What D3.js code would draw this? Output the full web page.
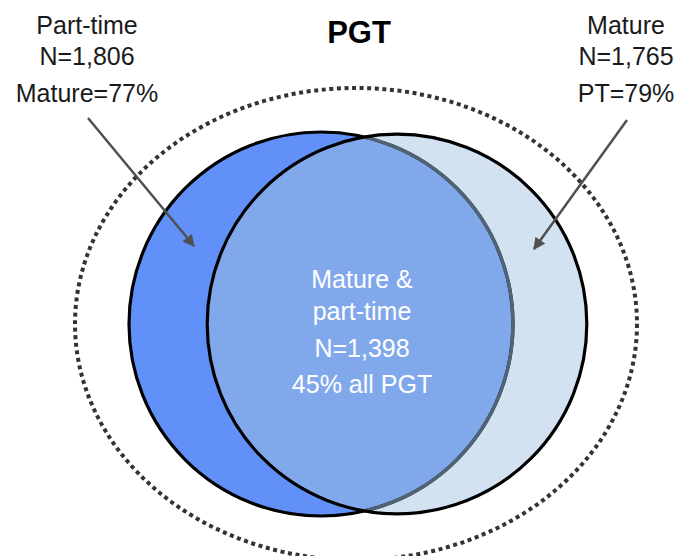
<!DOCTYPE html>
<html>
<head>
<meta charset="utf-8">
<script src="https://cdn.jsdelivr.net/npm/d3@7"></script>
<style>
  body { margin: 0; background: #fff; }
  text { font-family: "Liberation Sans", Arial, sans-serif; }
</style>
</head>
<body>
<script>
var title = 'PGT';
var setNames = ['Part-time', 'Mature'];
var setCounts = [1806, 1765];
var setLabels = ['N=1,806', 'N=1,765'];
var setShares = ['Mature=77%', 'PT=79%'];
var overlapLines = ['Mature &', 'part-time', 'N=1,398', '45% all PGT'];

var width = 678;
var height = 556;
var cy = 324;

var svg = d3.select('body').append('svg')
            .attr('width', width)
            .attr('height', height);

var x = d3.scalePoint()
          .domain(setNames)
          .range([321, 397]);
var r = d3.scaleSqrt()
          .domain([0, d3.max(setCounts)])
          .range([0, 192]);

var sets = setNames.map(function(d, i) {
  return { name: d, count: setCounts[i], label: setLabels[i], share: setShares[i] };
});
var left = sets[0], right = sets[1];

var defs = svg.append('defs');
defs.append('clipPath').attr('id', 'clipRight')
    .append('circle')
    .attr('cx', x(right.name)).attr('cy', cy).attr('r', r(right.count));
defs.append('marker')
    .attr('id', 'arrow')
    .attr('viewBox', '0 0 10 10')
    .attr('refX', 9).attr('refY', 5)
    .attr('markerUnits', 'userSpaceOnUse')
    .attr('markerWidth', 14).attr('markerHeight', 12)
    .attr('orient', 'auto')
    .append('path')
    .attr('d', 'M0,0L10,5L0,10z')
    .attr('fill', '#505050');

// whole PGT population
svg.append('ellipse')
   .attr('cx', 356).attr('cy', cy)
   .attr('rx', 281).attr('ry', 236)
   .attr('fill', 'none')
   .attr('stroke', '#333')
   .attr('stroke-width', 4)
   .attr('stroke-dasharray', '4,3.6');

var venn = svg.append('g');

function circle(s) {
  return venn.append('circle')
             .attr('cx', x(s.name))
             .attr('cy', cy)
             .attr('r', r(s.count));
}

circle(left).attr('fill', '#6190f8');
circle(right).attr('fill', '#d3e2f0');
circle(left).attr('fill', '#82a8ec').attr('clip-path', 'url(#clipRight)');
circle(left).attr('fill', 'none').attr('stroke', '#000').attr('stroke-width', 3.2);
circle(left).attr('fill', 'none').attr('stroke', '#4f6577').attr('stroke-width', 3.4)
            .attr('clip-path', 'url(#clipRight)');
circle(right).attr('fill', 'none').attr('stroke', '#000').attr('stroke-width', 3.2);

// title
svg.append('text')
   .attr('x', 359).attr('y', 43)
   .attr('text-anchor', 'middle')
   .attr('font-size', 31)
   .attr('font-weight', 'bold')
   .attr('fill', '#000')
   .text(title);

// set labels
var labelX = [87, 626];
sets.forEach(function(s, i) {
  var t = svg.append('g').attr('transform', 'translate(' + labelX[i] + ',0)');
  [[s.name, 34], [s.label, 65], [s.share, 102]].forEach(function(l) {
    t.append('text')
     .attr('y', l[1])
     .attr('text-anchor', 'middle')
     .attr('font-size', 25)
     .attr('fill', '#1a1a1a')
     .text(l[0]);
  });
});

// arrows
var arrows = [[[88, 118], [194, 246]], [[627, 120], [534, 249]]];
svg.selectAll('line.arrow')
   .data(arrows)
   .enter().append('line')
   .attr('class', 'arrow')
   .attr('x1', function(d) { return d[0][0]; })
   .attr('y1', function(d) { return d[0][1]; })
   .attr('x2', function(d) { return d[1][0]; })
   .attr('y2', function(d) { return d[1][1]; })
   .attr('stroke', '#505050')
   .attr('stroke-width', 2.5)
   .attr('marker-end', 'url(#arrow)');

// overlap text
var baselines = [288, 320, 357, 393];
svg.selectAll('text.overlap')
   .data(overlapLines)
   .enter().append('text')
   .attr('class', 'overlap')
   .attr('x', 362)
   .attr('y', function(d, i) { return baselines[i]; })
   .attr('text-anchor', 'middle')
   .attr('font-size', 25)
   .attr('fill', '#fff')
   .text(function(d) { return d; });
</script>
</body>
</html>
